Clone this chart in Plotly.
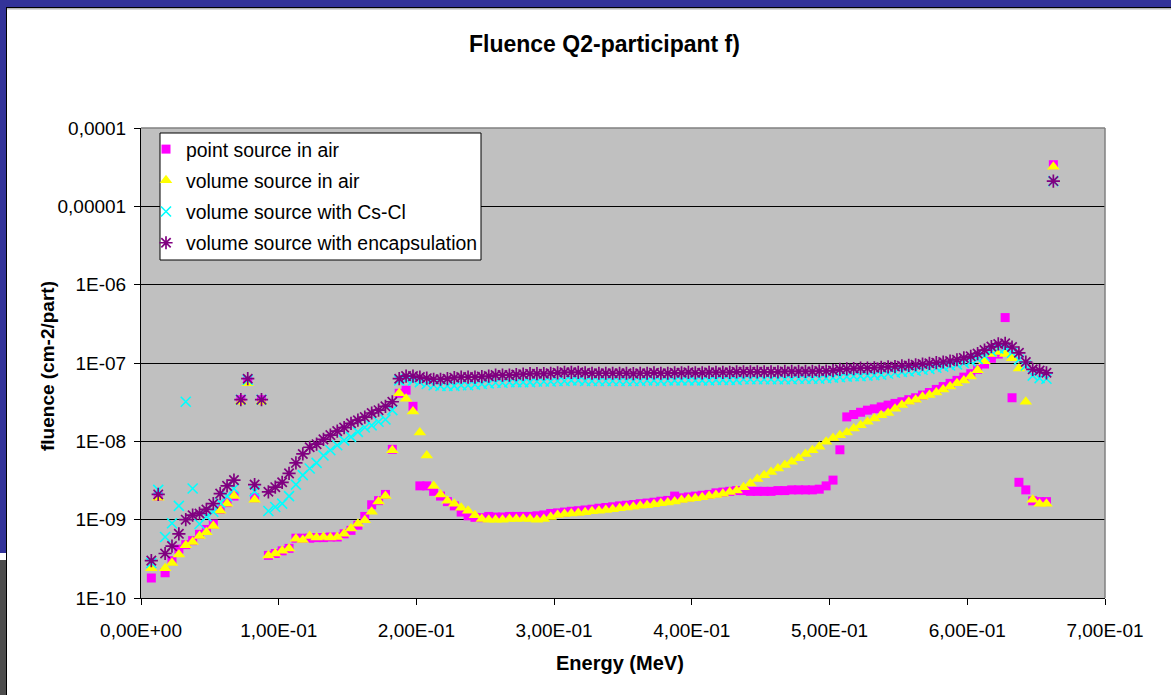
import plotly.graph_objects as go

# Energy bin centres (keV), 5 keV bins
energy_kev = [
    7.5, 12.5, 17.5, 22.5, 27.5, 32.5, 37.5, 42.5, 47.5, 52.5,
    57.5, 62.5, 67.5, 72.5, 77.5, 82.5, 87.5, 92.5, 97.5, 102.5,
    107.5, 112.5, 117.5, 122.5, 127.5, 132.5, 137.5, 142.5, 147.5, 152.5,
    157.5, 162.5, 167.5, 172.5, 177.5, 182.5, 187.5, 192.5, 197.5, 202.5,
    207.5, 212.5, 217.5, 222.5, 227.5, 232.5, 237.5, 242.5, 247.5, 252.5,
    257.5, 262.5, 267.5, 272.5, 277.5, 282.5, 287.5, 292.5, 297.5, 302.5,
    307.5, 312.5, 317.5, 322.5, 327.5, 332.5, 337.5, 342.5, 347.5, 352.5,
    357.5, 362.5, 367.5, 372.5, 377.5, 382.5, 387.5, 392.5, 397.5, 402.5,
    407.5, 412.5, 417.5, 422.5, 427.5, 432.5, 437.5, 442.5, 447.5, 452.5,
    457.5, 462.5, 467.5, 472.5, 477.5, 482.5, 487.5, 492.5, 497.5, 502.5,
    507.5, 512.5, 517.5, 522.5, 527.5, 532.5, 537.5, 542.5, 547.5, 552.5,
    557.5, 562.5, 567.5, 572.5, 577.5, 582.5, 587.5, 592.5, 597.5, 602.5,
    607.5, 612.5, 617.5, 622.5, 627.5, 632.5, 637.5, 642.5, 647.5, 652.5,
    657.5, 662.5,
]
energy_mev = [e / 1000.0 for e in energy_kev]

# Fluence per source particle (cm-2/part)
point_source_air = [
    1.8e-10, 2.0e-9, 2.1e-10, 3.0e-10, 4.2e-10, 4.8e-10, 5.4e-10, 6.5e-10, 7.5e-10, 8.8e-10,
    1.35e-9, 1.65e-9, 2.0e-9, 3.4e-8, 5.8e-8, 1.9e-9, 3.4e-8, 3.5e-10, 3.7e-10, 4.0e-10,
    4.3e-10, 5.8e-10, 5.8e-10, 5.8e-10, 5.9e-10, 5.9e-10, 6.0e-10, 6.0e-10, 6.6e-10, 7.3e-10,
    8.5e-10, 1.1e-9, 1.55e-9, 1.75e-9, 2.1e-9, 7.9e-9, 4.1e-8, 4.5e-8, 2.8e-8, 2.7e-9,
    2.7e-9, 2.3e-9, 2.0e-9, 1.7e-9, 1.5e-9, 1.25e-9, 1.12e-9, 1.07e-9, 1.06e-9, 1.1e-9,
    1.08e-9, 1.08e-9, 1.1e-9, 1.1e-9, 1.1e-9, 1.1e-9, 1.12e-9, 1.15e-9, 1.2e-9, 1.22e-9,
    1.25e-9, 1.28e-9, 1.3e-9, 1.33e-9, 1.36e-9, 1.4e-9, 1.43e-9, 1.46e-9, 1.5e-9, 1.53e-9,
    1.56e-9, 1.6e-9, 1.63e-9, 1.67e-9, 1.72e-9, 1.76e-9, 2.0e-9, 1.9e-9, 1.95e-9, 2.0e-9,
    2.05e-9, 2.1e-9, 2.2e-9, 2.25e-9, 2.3e-9, 2.35e-9, 2.35e-9, 2.3e-9, 2.3e-9, 2.3e-9,
    2.3e-9, 2.35e-9, 2.35e-9, 2.4e-9, 2.4e-9, 2.4e-9, 2.4e-9, 2.45e-9, 2.7e-9, 3.2e-9,
    7.8e-9, 2.05e-8, 2.2e-8, 2.35e-8, 2.5e-8, 2.6e-8, 2.75e-8, 2.9e-8, 3.05e-8, 3.2e-8,
    3.4e-8, 3.6e-8, 3.9e-8, 4.2e-8, 4.6e-8, 5.0e-8, 5.5e-8, 6.0e-8, 6.6e-8, 7.3e-8,
    8.3e-8, 9.7e-8, 1.15e-7, 1.3e-7, 3.8e-7, 3.6e-8, 3.0e-9, 2.4e-9, 1.74e-9, 1.7e-9,
    1.7e-9, 3.4e-5,
]

volume_source_air = [
    2.4e-10, 1.9e-9, 2.4e-10, 2.8e-10, 3.6e-10, 4.7e-10, 5.2e-10, 6.2e-10, 6.9e-10, 8.3e-10,
    1.3e-9, 1.6e-9, 2.0e-9, 3.2e-8, 5.5e-8, 1.8e-9, 3.2e-8, 3.5e-10, 3.7e-10, 4.0e-10,
    4.3e-10, 5.7e-10, 5.5e-10, 6.2e-10, 5.9e-10, 6.0e-10, 5.9e-10, 6.0e-10, 6.6e-10, 7.7e-10,
    8.9e-10, 9.8e-10, 1.26e-9, 1.7e-9, 2.0e-9, 7.7e-9, 4.1e-8, 3.5e-8, 2.4e-8, 1.3e-8,
    6.6e-9, 2.7e-9, 2.1e-9, 1.74e-9, 1.6e-9, 1.42e-9, 1.3e-9, 1.14e-9, 1.02e-9, 1.0e-9,
    1.0e-9, 1.0e-9, 1.02e-9, 1.02e-9, 1.03e-9, 1.02e-9, 1.0e-9, 1.02e-9, 1.08e-9, 1.15e-9,
    1.18e-9, 1.2e-9, 1.22e-9, 1.24e-9, 1.28e-9, 1.3e-9, 1.33e-9, 1.36e-9, 1.4e-9, 1.43e-9,
    1.46e-9, 1.5e-9, 1.53e-9, 1.57e-9, 1.62e-9, 1.66e-9, 1.7e-9, 1.78e-9, 1.83e-9, 1.88e-9,
    1.93e-9, 2.0e-9, 2.07e-9, 2.15e-9, 2.25e-9, 2.35e-9, 2.6e-9, 2.9e-9, 3.3e-9, 3.7e-9,
    4.05e-9, 4.5e-9, 5.0e-9, 5.5e-9, 6.1e-9, 6.9e-9, 7.7e-9, 8.5e-9, 9.9e-9, 1.1e-8,
    1.2e-8, 1.3e-8, 1.46e-8, 1.6e-8, 1.78e-8, 1.95e-8, 2.16e-8, 2.3e-8, 2.6e-8, 2.9e-8,
    3.2e-8, 3.4e-8, 3.7e-8, 3.9e-8, 4.2e-8, 4.6e-8, 5.0e-8, 5.5e-8, 6.0e-8, 6.7e-8,
    8.1e-8, 1.05e-7, 1.3e-7, 1.38e-7, 1.3e-7, 1.15e-7, 8.5e-8, 3.2e-8, 1.8e-9, 1.6e-9,
    1.6e-9, 3.2e-5,
]

volume_source_cscl = [
    2.8e-10, 2.4e-9, 6.0e-10, 9.0e-10, 1.5e-9, 3.2e-8, 2.5e-9, 8.8e-10, 1.1e-9, 1.26e-9,
    1.64e-9, 2.0e-9, 2.5e-9, 3.4e-8, 6.1e-8, 2.3e-9, 3.4e-8, 1.29e-9, 1.45e-9, 1.6e-9,
    2.0e-9, 2.8e-9, 3.7e-9, 4.5e-9, 5.3e-9, 6.6e-9, 7.7e-9, 8.9e-9, 1.03e-8, 1.14e-8,
    1.32e-8, 1.5e-8, 1.6e-8, 1.78e-8, 1.9e-8, 2.5e-8, 6.0e-8, 6.2e-8, 6.0e-8, 5.7e-8,
    5.4e-8, 5.2e-8, 5.1e-8, 5.1e-8, 5.1e-8, 5.2e-8, 5.2e-8, 5.3e-8, 5.4e-8, 5.5e-8,
    5.6e-8, 5.6e-8, 5.7e-8, 5.7e-8, 5.7e-8, 5.7e-8, 5.8e-8, 5.8e-8, 5.8e-8, 5.9e-8,
    5.9e-8, 6.0e-8, 6.0e-8, 5.9e-8, 5.9e-8, 5.9e-8, 5.9e-8, 5.9e-8, 5.9e-8, 5.9e-8,
    5.9e-8, 5.9e-8, 6.0e-8, 6.0e-8, 5.9e-8, 6.0e-8, 6.0e-8, 6.0e-8, 6.0e-8, 6.0e-8,
    6.0e-8, 6.0e-8, 6.1e-8, 6.1e-8, 6.1e-8, 6.1e-8, 6.2e-8, 6.2e-8, 6.2e-8, 6.2e-8,
    6.2e-8, 6.2e-8, 6.2e-8, 6.2e-8, 6.3e-8, 6.3e-8, 6.3e-8, 6.3e-8, 6.4e-8, 6.5e-8,
    6.6e-8, 6.7e-8, 6.8e-8, 6.8e-8, 6.9e-8, 7.0e-8, 7.1e-8, 7.3e-8, 7.5e-8, 7.7e-8,
    7.8e-8, 8.0e-8, 8.2e-8, 8.4e-8, 8.7e-8, 9.0e-8, 9.3e-8, 9.6e-8, 1.0e-7, 1.05e-7,
    1.12e-7, 1.23e-7, 1.4e-7, 1.53e-7, 1.55e-7, 1.35e-7, 1.1e-7, 9.3e-8, 6.9e-8, 6.4e-8,
    6.3e-8, 2.1e-5,
]

volume_source_encapsulation = [
    3.0e-10, 2.1e-9, 3.7e-10, 4.6e-10, 6.6e-10, 1.0e-9, 1.14e-9, 1.2e-9, 1.35e-9, 1.6e-9,
    2.15e-9, 2.7e-9, 3.2e-9, 3.4e-8, 6.3e-8, 2.8e-9, 3.4e-8, 2.27e-9, 2.6e-9, 3.0e-9,
    3.9e-9, 5.3e-9, 6.9e-9, 8.4e-9, 9.2e-9, 1.06e-8, 1.2e-8, 1.35e-8, 1.5e-8, 1.7e-8,
    1.86e-8, 2.04e-8, 2.3e-8, 2.5e-8, 2.8e-8, 3.2e-8, 6.3e-8, 6.8e-8, 6.8e-8, 6.6e-8,
    6.4e-8, 6.2e-8, 6.2e-8, 6.3e-8, 6.5e-8, 6.6e-8, 6.6e-8, 6.6e-8, 6.7e-8, 6.8e-8,
    7.0e-8, 7.0e-8, 7.0e-8, 7.1e-8, 7.2e-8, 7.3e-8, 7.3e-8, 7.3e-8, 7.4e-8, 7.5e-8,
    7.6e-8, 7.6e-8, 7.6e-8, 7.5e-8, 7.4e-8, 7.4e-8, 7.4e-8, 7.4e-8, 7.4e-8, 7.4e-8,
    7.3e-8, 7.4e-8, 7.4e-8, 7.5e-8, 7.4e-8, 7.4e-8, 7.5e-8, 7.5e-8, 7.6e-8, 7.5e-8,
    7.5e-8, 7.6e-8, 7.6e-8, 7.6e-8, 7.6e-8, 7.7e-8, 7.7e-8, 7.7e-8, 7.7e-8, 7.7e-8,
    7.7e-8, 7.7e-8, 7.8e-8, 7.8e-8, 7.8e-8, 7.8e-8, 7.8e-8, 7.9e-8, 7.9e-8, 8.0e-8,
    8.3e-8, 8.4e-8, 8.5e-8, 8.6e-8, 8.6e-8, 8.7e-8, 8.8e-8, 8.9e-8, 9.0e-8, 9.2e-8,
    9.3e-8, 9.5e-8, 9.7e-8, 9.9e-8, 1.01e-7, 1.03e-7, 1.06e-7, 1.1e-7, 1.16e-7, 1.22e-7,
    1.32e-7, 1.46e-7, 1.62e-7, 1.75e-7, 1.78e-7, 1.6e-7, 1.35e-7, 1.03e-7, 8.3e-8, 8.0e-8,
    7.5e-8, 2.1e-5,
]

x_tick_vals = [0.0, 0.1, 0.2, 0.3, 0.4, 0.5, 0.6, 0.7]
x_tick_text = ["0,00E+00", "1,00E-01", "2,00E-01", "3,00E-01",
               "4,00E-01", "5,00E-01", "6,00E-01", "7,00E-01"]
y_tick_vals = [1e-10, 1e-9, 1e-8, 1e-7, 1e-6, 1e-5, 1e-4]
y_tick_text = ["1E-10", "1E-09", "1E-08", "1E-07", "1E-06", "0,00001", "0,0001"]

FONT = "Liberation Sans, Arial, sans-serif"
W, H = 1171, 695
L, R, T, B = 141, 66, 128, 97          # plot area: x 141..1105, y 128..598
PW, PH = W - L - R, H - T - B


def fx(px):
    return (px - L) / PW


def fy(py):
    return (H - B - py) / PH


fig = go.Figure()

fig.add_trace(go.Scatter(
    x=energy_mev, y=point_source_air, mode="markers", name="point source in air",
    legendgroup="g1",
    marker=dict(symbol="square", size=9, color="#FF00FF", line=dict(width=0)),
))
fig.add_trace(go.Scatter(
    x=energy_mev, y=volume_source_air, mode="markers", name="volume source in air",
    legendgroup="g2",
    marker=dict(symbol="triangle-up", size=11, color="#FFFF00", line=dict(width=0)),
))
fig.add_trace(go.Scatter(
    x=energy_mev, y=volume_source_cscl, mode="markers", name="volume source with Cs-Cl",
    legendgroup="g3",
    marker=dict(symbol="x-thin-open", size=10, color="#00FFFF",
                line=dict(color="#00FFFF", width=1.6)),
))
fig.add_trace(go.Scatter(
    x=energy_mev, y=volume_source_encapsulation, mode="markers",
    name="volume source with encapsulation", legendgroup="g4",
    marker=dict(symbol="asterisk-open", size=11, color="#800080",
                line=dict(color="#800080", width=1.7)),
))

# window frame around the chart
frame = [
    (0, 1171, 0, 7, "#333399"),
    (0, 1171, 7, 8, "#000000"),
    (0, 1171, 8, 9.5, "#B4B4B4"),
    (0, 6, 0, 553, "#333399"),
    (0, 6, 560, 695, "#4D4D4D"),
    (6, 7, 7, 695, "#000000"),
]
shapes = []
for x0, x1, y0, y1, col in frame:
    shapes.append(dict(type="rect", xref="paper", yref="paper",
                       x0=fx(x0), x1=fx(x1), y0=fy(y1), y1=fy(y0),
                       fillcolor=col, line=dict(width=0), layer="above"))
# grey plot-area border on top and right
shapes.append(dict(type="line", xref="paper", yref="paper", x0=0, x1=1, y0=1, y1=1,
                   line=dict(color="#808080", width=1.5), layer="above"))
shapes.append(dict(type="line", xref="paper", yref="paper", x0=1, x1=1, y0=0, y1=1,
                   line=dict(color="#808080", width=1.5), layer="above"))
# legend box
shapes.append(dict(type="rect", xref="paper", yref="paper",
                   x0=fx(160), x1=fx(481), y0=fy(260), y1=fy(133),
                   fillcolor="white", line=dict(color="black", width=1), layer="above"))

annotations = [
    dict(text="<b>Fluence Q2-participant f)</b>", xref="paper", yref="paper",
         x=fx(604), y=fy(44), xanchor="center", yanchor="middle", showarrow=False,
         font=dict(family=FONT, size=23, color="black")),
    dict(text="<b>Energy (MeV)</b>", xref="paper", yref="paper",
         x=fx(620), y=fy(663), xanchor="center", yanchor="middle", showarrow=False,
         font=dict(family=FONT, size=20, color="black")),
    dict(text="<b>fluence (cm-2/part)</b>", xref="paper", yref="paper",
         x=fx(47), y=fy(366), xanchor="center", yanchor="middle", showarrow=False,
         textangle=-90, font=dict(family=FONT, size=19, color="black")),
]

fig.update_layout(
    width=W, height=H,
    margin=dict(l=L, r=R, t=T, b=B, pad=0),
    paper_bgcolor="white",
    plot_bgcolor="#C0C0C0",
    font=dict(family=FONT, size=18, color="black"),
    showlegend=True,
    legend=dict(
        x=fx(146), y=fy(130), xanchor="left", yanchor="top",
        bgcolor="rgba(0,0,0,0)", borderwidth=0,
        font=dict(family=FONT, size=19.4, color="black"),
        tracegroupgap=3,
        itemsizing="trace",
    ),
    shapes=shapes,
    annotations=annotations,
    xaxis=dict(
        range=[0, 0.7], tickvals=x_tick_vals, ticktext=x_tick_text,
        showgrid=False, zeroline=False,
        showline=True, linecolor="black", linewidth=1,
        ticks="outside", ticklen=6, tickcolor="black", tickwidth=1,
        ticklabelstandoff=9,
        tickfont=dict(family=FONT, size=19, color="black"),
    ),
    yaxis=dict(
        type="log", range=[-10, -4], tickvals=y_tick_vals, ticktext=y_tick_text,
        showgrid=True, gridcolor="#000000", gridwidth=1, zeroline=False,
        showline=True, linecolor="black", linewidth=1,
        ticks="outside", ticklen=6, tickcolor="black", tickwidth=1,
        ticklabelstandoff=4,
        tickfont=dict(family=FONT, size=19, color="black"),
    ),
)

fig.write_html("out.html")
